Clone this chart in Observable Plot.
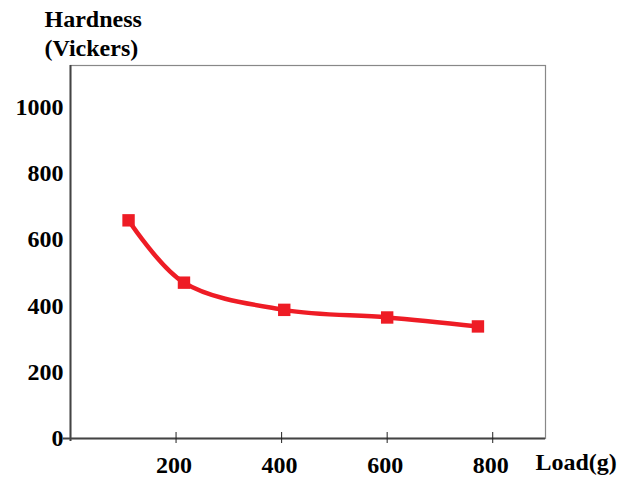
<!DOCTYPE html>
<html>
<head>
<meta charset="utf-8">
<script src="https://cdn.jsdelivr.net/npm/d3@7"></script>
<script src="https://cdn.jsdelivr.net/npm/@observablehq/plot@0.6"></script>
<style>
  html, body { margin: 0; padding: 0; background: #fff; }
</style>
</head>
<body>
<div id="chart"></div>
<script>
const loads = [110, 215, 405, 600, 772];
const hardness = [658, 470, 388, 365, 338];
const xTicks = [200, 400, 600, 800];
const yTicks = [0, 200, 400, 600, 800, 1000];
const yTitleLines = ["Hardness", "(Vickers)"];
const xTitle = "Load(g)";

const data = loads.map((x, i) => ({load: x, hardness: hardness[i]}));
const font = "'Liberation Serif', 'Times New Roman', serif";
const red = "#ee1c25";

const chart = Plot.plot({
  width: 617,
  height: 479,
  marginLeft: 70,
  marginTop: 65,
  marginRight: 72,
  marginBottom: 41,
  style: {fontFamily: font, background: "#fff"},
  x: {domain: [0, 900]},
  y: {domain: [0, 1125]},
  marks: [
    Plot.frame({stroke: "#888", strokeWidth: 1.2}),
    Plot.ruleX([0], {stroke: "#444", strokeWidth: 2, insetBottom: -3}),
    Plot.ruleY([0], {stroke: "#444", strokeWidth: 2, insetLeft: -7}),
    Plot.axisY({ticks: yTicks, tickSize: 5, tickPadding: 2, fontSize: 24, fontWeight: "bold", fill: "#000", stroke: null, label: null, tickFormat: d => String(d)}),
    Plot.axisX({ticks: xTicks, tickSize: 11, dy: -6, tickFormat: () => "", label: null, stroke: "#222"}),
    Plot.axisX({ticks: xTicks, tickSize: 0, tickPadding: 17, fontSize: 24, fontWeight: "bold", fill: "#000", label: null, dx: -2, tickFormat: d => String(d)}),
    Plot.line(data, {x: "load", y: "hardness", curve: "catmull-rom", stroke: red, strokeWidth: 4.5}),
    Plot.dot(data, {x: "load", y: "hardness", symbol: "square", r: 7, fill: red, stroke: null}),
    Plot.text([yTitleLines[0]], {frameAnchor: "top-left", dx: -26, dy: -46, textAnchor: "start", lineAnchor: "middle", fontSize: 24, fontWeight: "bold", fill: "#000"}),
    Plot.text([yTitleLines[1]], {frameAnchor: "top-left", dx: -26, dy: -17, textAnchor: "start", lineAnchor: "middle", fontSize: 24, fontWeight: "bold", fill: "#000"}),
    Plot.text([xTitle], {frameAnchor: "bottom-right", dx: -10, dy: 24, textAnchor: "start", lineAnchor: "middle", fontSize: 24, fontWeight: "bold", fill: "#000"})
  ]
});
document.getElementById("chart").appendChild(chart);
</script>
</body>
</html>
